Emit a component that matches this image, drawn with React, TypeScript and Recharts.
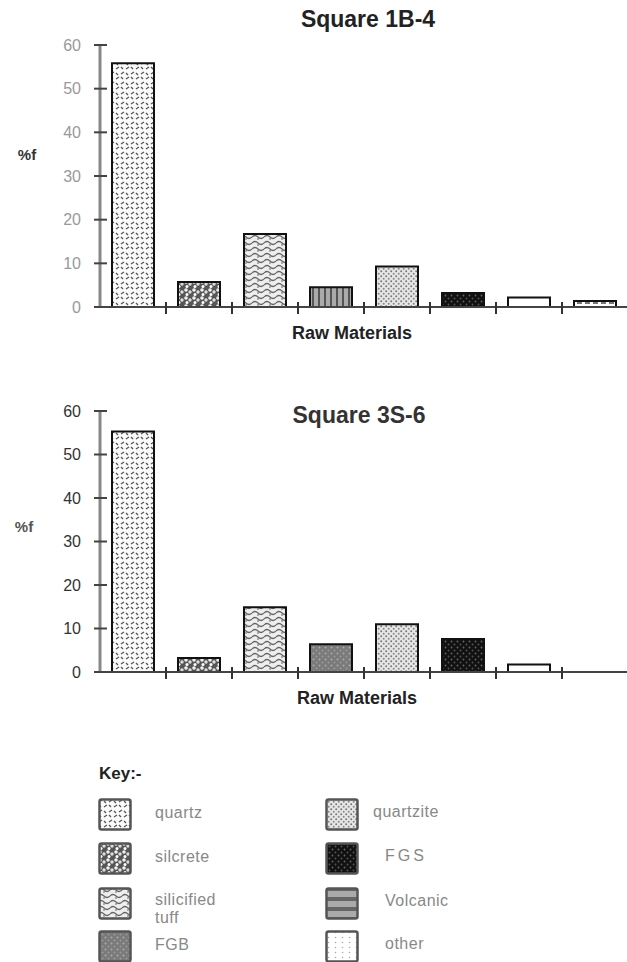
import { BarChart, Bar, XAxis, YAxis, Cell } from 'recharts';

const categories = ['quartz', 'silcrete', 'silicified tuff', 'FGB', 'quartzite', 'FGS', 'other', 'Volcanic'];
const square1B4 = [55.8, 5.7, 16.7, 4.5, 9.3, 3.2, 2.2, 1.4];
const square3S6 = [55.3, 3.2, 14.9, 6.4, 11.0, 7.6, 1.7, 0];
const yTicks = [0, 10, 20, 30, 40, 50, 60];

// fill pattern used by each bar, as drawn in the two squares
const fills1B4 = ['quartz', 'silcrete', 'tuff', 'vstripe', 'quartzite', 'fgs', 'plain', 'dash'];
const fills3S6 = ['quartz', 'silcrete', 'tuff', 'fgb', 'quartzite', 'fgs', 'plain', 'plain'];

const legendLeft = [
  { label: 'quartz', fill: 'quartz' },
  { label: 'silcrete', fill: 'silcrete' },
  { label: 'silicified\ntuff', fill: 'tuff' },
  { label: 'FGB', fill: 'fgb' },
];
const legendRight = [
  { label: 'quartzite', fill: 'quartzite' },
  { label: 'FGS', fill: 'fgs' },
  { label: 'Volcanic', fill: 'volcanic' },
  { label: 'other', fill: 'other' },
];

const FONT = '"Liberation Sans", Arial, sans-serif';
const BAND_HALF = 528 / 8 / 2;

function Patterns() {
  return (
    <svg width={0} height={0} style={{ position: 'absolute' }}>
      <defs>
        <pattern id="quartz" patternUnits="userSpaceOnUse" width={10} height={10}>
          <rect width={10} height={10} fill="#fafafa" />
          <path d="M1 4 L4 2 M6 9 L9 7 M6 3 L8 5 M1 7 L3 9" stroke="#555" strokeWidth={1.3} />
        </pattern>
        <pattern id="silcrete" patternUnits="userSpaceOnUse" width={8} height={8}>
          <rect width={8} height={8} fill="#555" />
          <circle cx={2} cy={2} r={1.8} fill="#eee" />
          <circle cx={6} cy={4} r={1.7} fill="#ddd" />
          <circle cx={3} cy={6.5} r={1.5} fill="#fff" />
        </pattern>
        <pattern id="tuff" patternUnits="userSpaceOnUse" width={12} height={6}>
          <rect width={12} height={6} fill="#eee" />
          <path d="M0 3 Q3 0 6 3 T12 3" stroke="#666" strokeWidth={1.2} fill="none" />
          <circle cx={6} cy={5} r={0.8} fill="#555" />
        </pattern>
        <pattern id="vstripe" patternUnits="userSpaceOnUse" width={6} height={6}>
          <rect width={6} height={6} fill="#aaa" />
          <rect x={0} width={2} height={6} fill="#555" />
        </pattern>
        <pattern id="fgb" patternUnits="userSpaceOnUse" width={6} height={6}>
          <rect width={6} height={6} fill="#7a7a7a" />
          <circle cx={1.5} cy={1.5} r={1} fill="#aaa" />
          <circle cx={4.5} cy={4.5} r={1} fill="#999" />
        </pattern>
        <pattern id="quartzite" patternUnits="userSpaceOnUse" width={5} height={5}>
          <rect width={5} height={5} fill="#e6e6e6" />
          <circle cx={1.2} cy={1.2} r={1} fill="#777" />
          <circle cx={3.7} cy={3.7} r={1} fill="#888" />
        </pattern>
        <pattern id="fgs" patternUnits="userSpaceOnUse" width={6} height={6}>
          <rect width={6} height={6} fill="#111" />
          <circle cx={1.5} cy={1.5} r={0.9} fill="#666" />
          <circle cx={4.5} cy={4.5} r={0.9} fill="#555" />
        </pattern>
        <pattern id="volcanic" patternUnits="userSpaceOnUse" width={8} height={10}>
          <rect width={8} height={10} fill="#aaa" />
          <rect y={0} width={8} height={4} fill="#666" />
        </pattern>
        <pattern id="other" patternUnits="userSpaceOnUse" width={7} height={5}>
          <rect width={7} height={5} fill="#fff" />
          <circle cx={3.5} cy={2.5} r={0.8} fill="#aaa" />
        </pattern>
        <pattern id="plain" patternUnits="userSpaceOnUse" width={4} height={4}>
          <rect width={4} height={4} fill="#fff" />
        </pattern>
        <pattern id="dash" patternUnits="userSpaceOnUse" width={8} height={6}>
          <rect width={8} height={6} fill="#fff" />
          <rect x={1} y={2} width={5} height={2} fill="#777" />
        </pattern>
      </defs>
    </svg>
  );
}

function YTick({ x, y, payload, color }: any) {
  return (
    <g>
      <line x1={x - 6} x2={x + 7} y1={y} y2={y} stroke="#444" strokeWidth={2} />
      <text x={x - 19} y={y} dy={5.5} textAnchor="end" fill={color} fontSize={16} fontFamily={FONT}>
        {payload.value}
      </text>
    </g>
  );
}

function XTick({ x, y, payload }: any) {
  const half = payload && payload.offset ? payload.offset : BAND_HALF;
  const bx = x + half;
  return <line x1={bx} x2={bx} y1={y - 5} y2={y + 7} stroke="#333" strokeWidth={2} />;
}

function Panel({ values, fills, height, top, tickColor }: any) {
  const data = categories.map((c, i) => ({ name: c, value: values[i] }));
  return (
    <BarChart
      width={628}
      height={height}
      data={data}
      margin={{ top, right: 0, left: 0, bottom: 0 }}
      barSize={42}
    >
      <XAxis
        dataKey="name"
        height={43}
        interval={0}
        tickSize={0}
        tickMargin={0}
        tick={<XTick />}
        axisLine={{ stroke: '#444', strokeWidth: 2 }}
      />
      <YAxis
        width={100}
        domain={[0, 60]}
        ticks={yTicks}
        interval={0}
        tickSize={0}
        tickMargin={0}
        tick={<YTick color={tickColor} />}
        axisLine={{ stroke: '#888', strokeWidth: 3 }}
      />
      <Bar dataKey="value" stroke="#111" strokeWidth={2} isAnimationActive={false}>
        {data.map((d, i) => (
          <Cell key={d.name} fill={`url(#${fills[i]})`} />
        ))}
      </Bar>
    </BarChart>
  );
}

function Text({ x, y, children, size = 16, bold = false, color = '#222', center = true, spacing = 0 }: any) {
  return (
    <div
      style={{
        position: 'absolute',
        left: x,
        top: y,
        transform: center ? 'translate(-50%, -50%)' : 'translate(0, -50%)',
        fontFamily: FONT,
        fontSize: size,
        fontWeight: bold ? 700 : 400,
        color,
        whiteSpace: 'pre',
        lineHeight: 1.1,
        letterSpacing: spacing,
      }}
    >
      {children}
    </div>
  );
}

function Swatch({ x, y, fill }: any) {
  return (
    <svg width={34} height={33} style={{ position: 'absolute', left: x, top: y }}>
      <rect x={1.5} y={1.5} width={31} height={30} rx={2} fill={`url(#${fill})`} stroke="#555" strokeWidth={2.5} />
    </svg>
  );
}

export default function App() {
  const rowY = [798, 842, 887, 930];
  return (
    <div style={{ position: 'absolute', left: 0, top: 0, width: 627, height: 962, overflow: 'hidden', background: '#fff' }}>
      <Patterns />

      <div style={{ position: 'absolute', left: 0, top: 0 }}>
        <Panel values={square1B4} fills={fills1B4} height={350} top={45} tickColor="#999" />
      </div>
      <Text x={368} y={20} size={23} bold>Square 1B-4</Text>
      <Text x={27} y={155} size={15} bold color="#333">%f</Text>
      <Text x={352} y={334} size={18} bold>Raw Materials</Text>

      <div style={{ position: 'absolute', left: 0, top: 370 }}>
        <Panel values={square3S6} fills={fills3S6} height={345} top={41} tickColor="#333" />
      </div>
      <Text x={359} y={416} size={23} bold color="#333">Square 3S-6</Text>
      <Text x={24} y={527} size={15} bold color="#555">%f</Text>
      <Text x={357} y={699} size={18} bold>Raw Materials</Text>

      <Text x={99} y={774} size={17} bold center={false}>Key:-</Text>
      {legendLeft.map((l, i) => (
        <div key={l.label}>
          <Swatch x={98} y={rowY[i]} fill={l.fill} />
          <Text x={155} y={rowY[i] + (l.label.includes('\n') ? 22 : 15)} size={16} color="#888" center={false} spacing={0.5}>
            {l.label}
          </Text>
        </div>
      ))}
      {legendRight.map((l, i) => (
        <div key={l.label}>
          <Swatch x={325} y={rowY[i]} fill={l.fill} />
          <Text x={i === 0 ? 373 : 385} y={rowY[i] + 14} size={16} color="#888" center={false} spacing={i === 1 ? 3 : 0.5}>
            {l.label}
          </Text>
        </div>
      ))}
    </div>
  );
}
